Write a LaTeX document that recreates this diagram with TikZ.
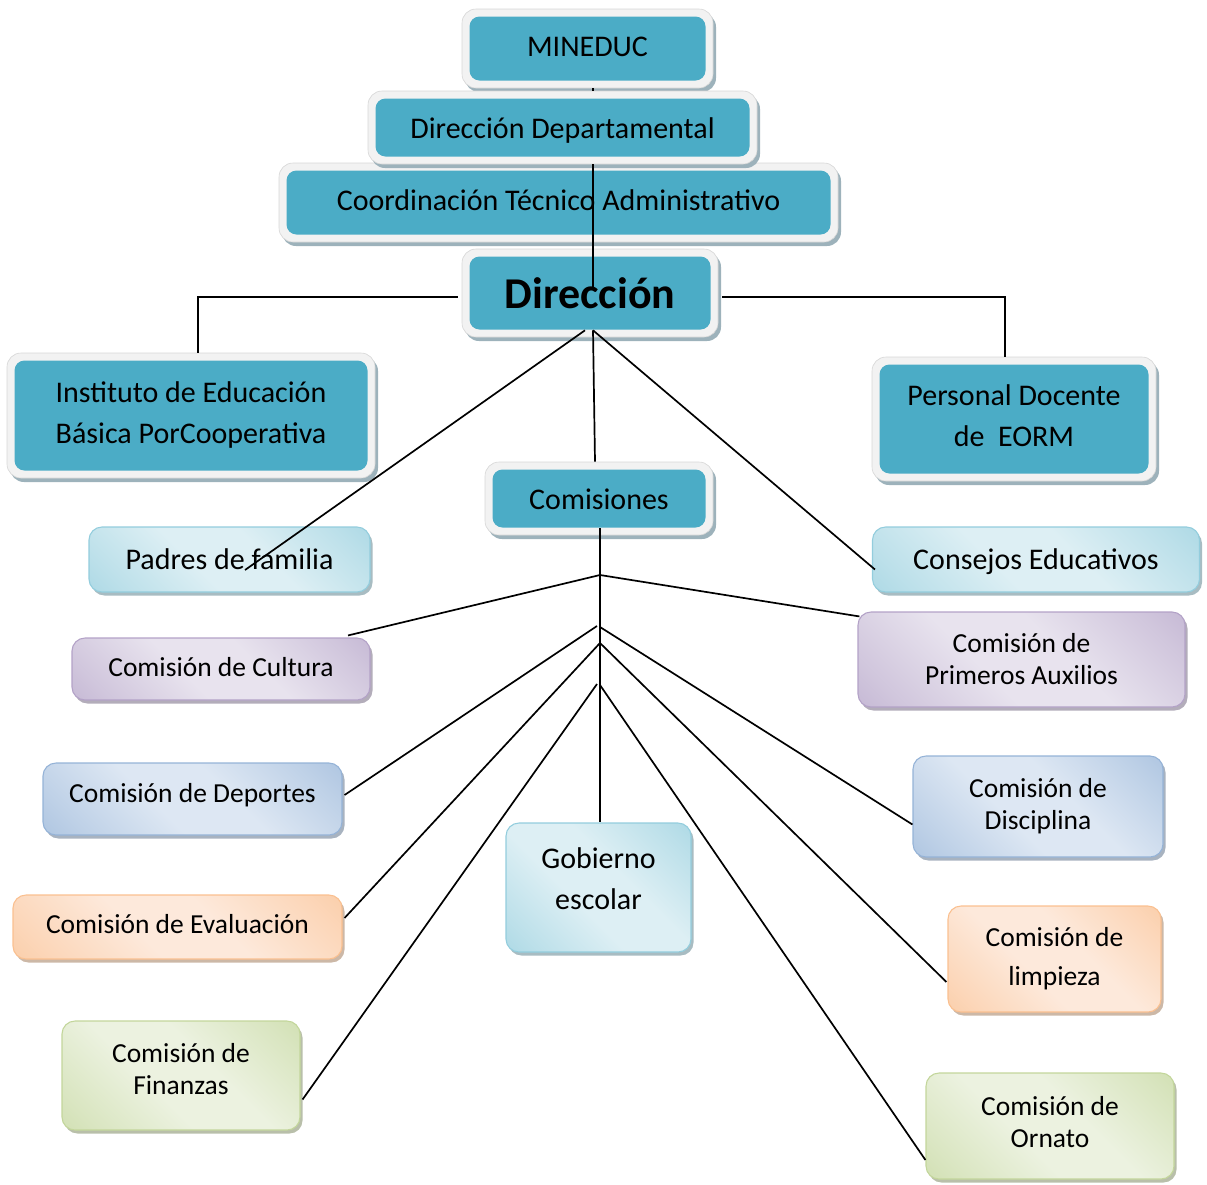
\documentclass[tikz,border=0pt]{standalone}
\usepackage{fontspec}
\setmainfont{Carlito}
\usetikzlibrary{shadows}
\definecolor{tealc}{HTML}{4BACC6}
\definecolor{rimc}{HTML}{F2F2F2}
\definecolor{rimline}{HTML}{D6D6D6}
\definecolor{dshadow}{HTML}{9DB2BB}
\definecolor{cyE}{HTML}{93CDDD}\definecolor{cyC}{HTML}{DDEFF4}
\definecolor{puE}{HTML}{B3A2C7}\definecolor{puC}{HTML}{E8E3EE}
\definecolor{blE}{HTML}{95B3D7}\definecolor{blC}{HTML}{DDE7F3}
\definecolor{orE}{HTML}{FAC090}\definecolor{orC}{HTML}{FDE9DB}
\definecolor{grE}{HTML}{C3D69B}\definecolor{grC}{HTML}{ECF2E0}
\colorlet{liteE}{cyE}\colorlet{liteC}{cyC}\colorlet{liteM}{cyE}
\pgfdeclarehorizontalshading[liteE,liteM,liteC]{liteshade}{100bp}{%
  color(0bp)=(liteE); color(22bp)=(liteM); color(42bp)=(liteC);
  color(58bp)=(liteC); color(78bp)=(liteM); color(100bp)=(liteE)}
\newcommand\fbig{\fontsize{30}{41}\selectfont}
\newcommand\fsmall{\fontsize{27.5}{32}\selectfont}
\newcommand\fsmallw{\fontsize{27.5}{39}\selectfont}
\tikzset{
  darkbox/.style={rounded corners=14pt, fill=rimc, draw=rimline, line width=0.6pt,
    inner sep=0pt, align=center, font=\fbig,
    drop shadow={shadow xshift=3pt, shadow yshift=-4pt, fill=dshadow, opacity=1},
    path picture={\fill[tealc, rounded corners=10pt]
      ([shift={(7.5pt,-7.5pt)}]path picture bounding box.north west) rectangle
      ([shift={(-7.5pt,7.5pt)}]path picture bounding box.south east);}},
  litebox/.style n args={2}{rounded corners=13pt, draw=#1, line width=1.1pt,
    /utils/exec={\colorlet{liteE}{#1}\colorlet{liteC}{#2}\colorlet{liteM}{#1!45!#2}},
    shading=liteshade, shading angle=45,
    inner sep=0pt, align=center, font=\fsmall,
    drop shadow={shadow xshift=2.5pt, shadow yshift=-3.5pt, fill=#1!65!black, opacity=0.55}},
  conn/.style={line width=1.7pt, black},
  bl/.style={text depth=0pt, text height=#1},
}
\begin{document}
\begin{tikzpicture}[x=1pt,y=-1pt]
\useasboundingbox (0,0) rectangle (1207,1184);

% top hierarchy
\node[darkbox, bl=16.2pt, minimum width=251pt, minimum height=79pt] (mineduc) at (587.5,48.5) {MINEDUC};
\node[darkbox, bl=16.2pt, minimum width=559pt, minimum height=79pt] (coord) at (558.5,202.5) {Coordinación Técnico Administrativo};
\node[darkbox, bl=22.2pt, minimum width=389pt, minimum height=73pt] (dirdep) at (562.5,127.5) {Dirección Departamental};
\node[darkbox, bl=30pt, minimum width=256pt, minimum height=88pt, font=\fontsize{44}{50}\selectfont\bfseries] (direccion) at (590,293) {Dirección};
\node[darkbox, bl=56.2pt, minimum width=368pt, minimum height=125pt] (instituto) at (191,415.5) {Instituto de Educación\\Básica PorCooperativa};
\node[darkbox, bl=55.2pt, minimum width=284pt, minimum height=124pt] (personal) at (1014,419) {Personal Docente\\de\ \ EORM};
\node[darkbox, bl=22.2pt, minimum width=228pt, minimum height=73pt] (comisiones) at (599,498.5) {Comisiones};

% light boxes
\node[litebox={cyE}{cyC}, bl=20.2pt, font=\fbig, minimum width=281pt, minimum height=65pt] (padres) at (229.5,559.5) {Padres de familia};
\node[litebox={cyE}{cyC}, bl=20.2pt, font=\fbig, minimum width=327pt, minimum height=65pt] (consejos) at (1036,559.5) {Consejos Educativos};
\node[litebox={puE}{puC}, bl=15.6pt, minimum width=298pt, minimum height=62pt] (cultura) at (221,669) {Comisión de Cultura};
\node[litebox={puE}{puC}, bl=50.6pt, minimum width=327pt, minimum height=95pt] (primeros) at (1021.5,659.5) {Comisión de\\Primeros Auxilios};
\node[litebox={blE}{blC}, bl=7.6pt, minimum width=299pt, minimum height=72pt] (deportes) at (192.5,799) {Comisión de Deportes};
\node[litebox={blE}{blC}, bl=46.6pt, minimum width=250pt, minimum height=101pt] (disciplina) at (1038,806.5) {Comisión de\\Disciplina};
\node[litebox={orE}{orC}, bl=13.6pt, minimum width=329pt, minimum height=64pt] (evaluacion) at (177.5,927) {Comisión de Evaluación};
\node[litebox={orE}{orC}, bl=53.6pt, font=\fsmallw, minimum width=213pt, minimum height=106pt] (limpieza) at (1054.5,959) {Comisión de\\limpieza};
\node[litebox={cyE}{cyC}, bl=44.2pt, font=\fbig, minimum width=185pt, minimum height=129pt] (gobierno) at (598.5,887.5) {Gobierno\\escolar};
\node[litebox={grE}{grC}, bl=38.6pt, minimum width=238pt, minimum height=109pt] (finanzas) at (181,1075.5) {Comisión de\\Finanzas};
\node[litebox={grE}{grC}, bl=43.6pt, minimum width=248pt, minimum height=106pt] (ornato) at (1050,1126) {Comisión de\\Ornato};

% branch points
\coordinate (dtop) at (593,287);
\coordinate (b1) at (600,575);
\coordinate (b2l) at (597,626);
\coordinate (b2r) at (600,627);
\coordinate (b3) at (600,643);
\coordinate (b4l) at (597,684);
\coordinate (b4r) at (600,685);

% connectors top
\draw[conn] ([xshift=5.5pt]mineduc.south) -- ([xshift=30.5pt]dirdep.north);
\draw[conn] ([xshift=30.5pt]dirdep.south) -- (dtop);
\draw[conn] ([shift={(-4,4)}]direccion.west) -| ([xshift=7pt]instituto.north);
\draw[conn] ([shift={(4,4)}]direccion.east) -| ([xshift=-9pt]personal.north);
\draw[conn] ([shift={(-5,-7)}]direccion.south) -- ([shift={(15.5,10.5)}]padres.center);
\draw[conn] ([shift={(3,-7)}]direccion.south) -- ([xshift=-4pt]comisiones.north);
\draw[conn] ([shift={(3,-7)}]direccion.south) -- ([shift={(3,10)}]consejos.west);

% connectors comisiones
\draw[conn] ([shift={(1,-7)}]comisiones.south) -- ([xshift=1.5pt]gobierno.north);
\draw[conn] (b1) -- ([shift={(127,-2)}]cultura.north);
\draw[conn] (b1) -- ([shift={(2,5)}]primeros.north west);
\draw[conn] (b2l) -- ([shift={(2,-4)}]deportes.east);
\draw[conn] (b2r) -- ([shift={(0,18)}]disciplina.west);
\draw[conn] (b3) -- ([shift={(2,-9)}]evaluacion.east);
\draw[conn] (b3) -- ([shift={(-1,23)}]limpieza.west);
\draw[conn] (b4l) -- ([shift={(2,24)}]finanzas.east);
\draw[conn] (b4r) -- ([shift={(0,34)}]ornato.west);
\end{tikzpicture}
\end{document}
